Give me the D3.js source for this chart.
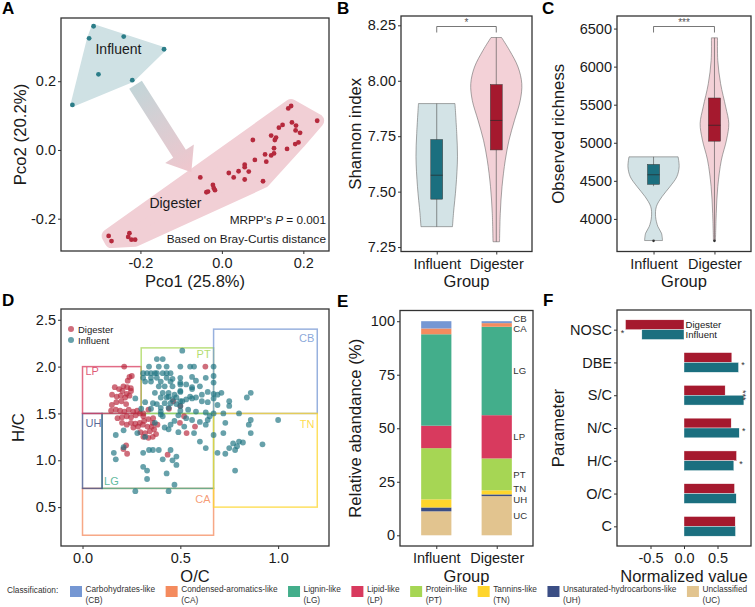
<!DOCTYPE html>
<html>
<head>
<meta charset="utf-8">
<script src="https://cdn.jsdelivr.net/npm/d3@7"></script>
<style>
  body { margin: 0; background: #fff; }
  svg text { font-family: "Liberation Sans", Arial, sans-serif; }
</style>
</head>
<body>
<div id="main"></div>
<script>
// ---------------- data ----------------
const groups = ['Influent', 'Digester'];

// A: PCoA scores (Pco1, Pco2)
const pcoInfluent = [[-0.315,0.360],[-0.326,0.325],[-0.241,0.330],[-0.142,0.293],[-0.303,0.220],[-0.220,0.203],[-0.367,0.131]];
const pcoDigester = [[0.163,0.121],[0.170,0.128],[0.234,0.085],[0.172,0.080],[0.149,0.073],[0.140,0.065],[0.182,0.071],
  [0.181,0.057],[0.192,0.050],[0.121,0.042],[0.133,0.036],[0.130,0.029],[0.076,0.029],[0.188,0.022],[0.180,0.017],
  [0.128,0.005],[0.106,-0.013],[0.128,-0.010],[0.121,-0.016],[0.160,0.003],[0.081,-0.029],[0.109,-0.034],[0.056,-0.043],
  [0.056,-0.050],[0.017,-0.067],[0.041,-0.062],[0.029,-0.080],[0.066,-0.063],[0.056,-0.086],[0.101,-0.091],[-0.053,-0.080],
  [-0.022,-0.102],[-0.020,-0.111],[-0.017,-0.117],[-0.038,-0.123],[-0.034,-0.121],[-0.278,-0.250],[-0.271,-0.265],
  [-0.227,-0.242],[-0.230,-0.253],[-0.222,-0.261],[-0.213,-0.261]];

// B: Shannon index, violin outline [value, relative density] and box stats
const shannonInfluentViolin = [[7.342,0.63],[7.402,0.67],[7.522,0.77],[7.657,0.83],[7.762,0.80],[7.897,0.73]];
const shannonDigesterViolin = [[7.274,0.13],[7.402,0.16],[7.522,0.23],[7.642,0.36],[7.732,0.51],[7.822,0.73],
  [7.912,0.96],[7.987,1.02],[8.062,0.87],[8.137,0.53],[8.195,0.21]];
const shannonBox = [
  { group: 'Influent', min: 7.342, q1: 7.466, median: 7.574, q3: 7.735, max: 7.897 },
  { group: 'Digester', min: 7.274, q1: 7.688, median: 7.821, q3: 7.983, max: 8.195 }
];

// C: observed richness
const richInfluentViolin = [[3716,0.35],[3812,0.31],[3899,0.17],[4030,0.08],[4161,0.11],[4292,0.33],[4423,0.64],
  [4554,0.91],[4685,1.0],[4815,0.96]];
const richDigesterViolin = [[3716,0.04],[4074,0.07],[4424,0.13],[4773,0.27],[5035,0.47],[5253,0.56],[5471,0.44],
  [5777,0.24],[6080,0.13],[6378,0.12]];
const richBox = [
  { group: 'Influent', min: 4430, q1: 4454, median: 4580, q3: 4716, max: 4815, outlier: 3712 },
  { group: 'Digester', min: 3712, q1: 5021, median: 5230, q3: 5588, max: 6378, outlier: 3712 }
];

// D: van Krevelen points (O/C, H/C)
const vkDigester = [[0.213,2.00],[0.240,1.89],[0.252,1.90],[0.231,1.85],[0.165,1.78],[0.187,1.76],[0.209,1.79],
  [0.228,1.78],[0.247,1.77],[0.204,1.74],[0.226,1.71],[0.248,1.74],[0.151,1.70],[0.175,1.68],[0.196,1.69],[0.218,1.67],
  [0.240,1.69],[0.150,1.59],[0.173,1.62],[0.199,1.63],[0.223,1.60],[0.146,1.53],[0.170,1.54],[0.192,1.53],[0.214,1.52],
  [0.236,1.54],[0.259,1.52],[0.279,1.53],[0.179,1.45],[0.202,1.46],[0.226,1.47],[0.248,1.46],[0.272,1.48],[0.294,1.50],
  [0.311,1.47],[0.202,1.40],[0.226,1.38],[0.248,1.40],[0.270,1.39],[0.293,1.40],[0.315,1.42],[0.337,1.44],[0.361,1.45],
  [0.260,1.35],[0.284,1.36],[0.308,1.38],[0.332,1.36],[0.354,1.36],[0.296,1.30],[0.320,1.29],[0.344,1.31],[0.366,1.33],
  [0.311,1.25],[0.337,1.24],[0.359,1.25],[0.376,1.28],[0.209,1.12],[0.228,1.07],[0.223,1.16],[0.442,1.55],[0.464,1.63],
  [0.500,1.58],[0.498,1.40],[0.519,1.47],[0.532,1.29],[0.628,2.00],[0.435,1.06],[0.359,1.40],[0.383,1.38],[0.311,1.50],
  [0.337,1.54],[0.575,1.36]];
const vkInfluent = [[0.51,2.17],[0.41,2.08],[0.38,2.08],[0.43,2.00],[0.34,2.00],[0.39,2.00],
  [0.31,1.93],[0.33,1.93],[0.35,1.93],[0.37,1.93],[0.38,1.93],[0.41,1.93],[0.43,1.93],[0.45,1.93],
  [0.31,1.88],[0.35,1.88],[0.38,1.88],[0.43,1.88],[0.46,1.87],[0.32,1.84],[0.35,1.84],[0.40,1.84],[0.45,1.84],
  [0.39,1.79],[0.42,1.79],[0.46,1.79],[0.50,1.81],[0.37,1.72],[0.41,1.72],[0.44,1.72],[0.47,1.70],[0.50,1.73],
  [0.40,1.67],[0.43,1.67],[0.44,1.68],[0.46,1.65],[0.48,1.67],[0.51,1.63],[0.36,1.61],[0.42,1.61],[0.45,1.61],[0.48,1.60],
  [0.40,1.56],[0.44,1.56],[0.50,1.53],[0.40,1.49],[0.49,1.48],[0.50,2.00],[0.55,2.00],[0.57,2.00],[0.67,2.00],
  [0.50,1.88],[0.56,1.89],[0.58,1.85],[0.67,1.90],[0.67,1.83],[0.63,1.88],[0.50,1.83],[0.53,1.81],[0.60,1.79],[0.56,1.78],
  [0.56,1.76],[0.50,1.74],[0.55,1.68],[0.58,1.67],[0.61,1.70],[0.64,1.73],[0.67,1.71],[0.69,1.70],[0.71,1.72],
  [0.50,1.63],[0.53,1.65],[0.56,1.66],[0.61,1.63],[0.64,1.62],[0.67,1.66],[0.69,1.59],[0.75,1.63],[0.75,1.58],[0.84,1.67],
  [0.86,1.72],[0.50,1.58],[0.54,1.54],[0.58,1.52],[0.63,1.51],[0.67,1.50],[0.72,1.50],[0.80,1.50],[0.86,1.43],[1.00,1.43],
  [0.53,1.45],[0.56,1.43],[0.60,1.41],[0.63,1.38],[0.64,1.43],[0.65,1.47],[0.57,1.29],[0.60,1.20],[0.63,1.13],[0.67,1.27],
  [0.72,1.29],[0.69,1.08],[0.73,1.07],[0.75,1.13],[0.77,1.18],[0.79,1.15],[0.80,1.20],[0.82,1.19],[0.78,1.11],[0.78,0.89],
  [0.92,1.17],[0.85,1.38],[0.86,1.29],[0.73,1.40],[0.17,1.27],[0.21,1.32],[0.16,1.08],[0.17,1.01],[0.21,1.14],[0.31,1.08],
  [0.34,1.11],[0.36,1.11],[0.39,1.11],[0.41,1.01],[0.45,1.11],[0.48,1.04],[0.46,1.00],[0.48,0.95],[0.31,0.93],[0.33,0.89],
  [0.33,0.80],[0.43,0.86],[0.47,0.74],[0.27,0.67],[0.44,0.67],[0.28,1.29],[0.32,1.25],[0.44,1.33],[0.41,1.47],[0.37,1.40],
  [0.45,1.38],[0.47,1.42],[0.42,1.35],[0.49,1.30],[0.52,1.36],[0.40,1.52],[0.35,1.55],[0.38,1.60],[0.27,1.66],[0.30,1.55],
  [0.32,1.62]];

// compound classes
const classes = ['CB', 'CA', 'LG', 'LP', 'PT', 'TN', 'UH', 'UC'];
const classNames = ['Carbohydrates-like', 'Condensed-aromatics-like', 'Lignin-like', 'Lipid-like',
  'Protein-like', 'Tannins-like', 'Unsaturated-hydrocarbons-like', 'Unclassified'];
const classColors = ['#7597d3', '#f48b5e', '#43ae8b', '#d83a5e', '#a6d654', '#fed52c', '#3b4e85', '#e2c48f'];
// van Krevelen boundaries [O/C min, O/C max, H/C min, H/C max] (UC has none)
const classBounds = { CB: [0.67,1.2,1.5,2.4], CA: [0,0.67,0.2,0.7], LG: [0.1,0.67,0.7,1.5], LP: [0,0.3,1.5,2.0],
  PT: [0.3,0.67,1.5,2.2], TN: [0.67,1.2,0.5,1.5], UH: [0,0.1,0.7,1.5] };

// E: relative abundance (%) in class order
const abundInfluent = [3.4, 2.7, 42.7, 10.5, 23.9, 3.8, 1.8, 11.2];
const abundDigester = [0.9, 1.7, 41.3, 20.2, 14.9, 1.9, 0.8, 18.3];

// F: normalized molecular parameters
const params = ['NOSC', 'DBE', 'S/C', 'N/C', 'H/C', 'O/C', 'C'];
const normDigester = [-0.873, 0.714, 0.614, 0.704, 0.784, 0.754, 0.764];
const normInfluent = [-0.629, 0.814, 0.894, 0.824, 0.744, 0.779, 0.769];
const paramSig = ['*', '*', '***', '*', '*', '', ''];

// ---------------- layout ----------------
const width = 755, height = 607;
const ink = '#1a1a1a';
const teal = '#1b6f7f', red = '#a5192e';

const svg = d3.select('#main').append('svg')
  .attr('width', width).attr('height', height)
  .style('background', '#fff');

const boxA = { x0: 61, x1: 329, y0: 18, y1: 251 };
const boxB = { x0: 401, x1: 532, y0: 16, y1: 251.5 };
const boxC = { x0: 617, x1: 751, y0: 16, y1: 251.5 };
const boxD = { x0: 61, x1: 329, y0: 309, y1: 546 };
const boxE = { x0: 400, x1: 533, y0: 310.5, y1: 546 };
const boxF = { x0: 617, x1: 751, y0: 310, y1: 546 };

const fmtMinus = f => v => f(v).replace('\u2212', '-');

function frame(b) {
  svg.append('rect')
    .attr('x', b.x0).attr('y', b.y0)
    .attr('width', b.x1 - b.x0).attr('height', b.y1 - b.y0)
    .attr('fill', 'none').attr('stroke', '#333').attr('stroke-width', 1.3);
}

function styleAxis(g) {
  g.select('.domain').remove();
  g.selectAll('.tick line').attr('stroke', '#333');
  g.selectAll('.tick text').attr('fill', ink).style('font-size', '14.5px');
}

function leftAxis(b, scale, ticks, fmt) {
  const g = svg.append('g').attr('transform', `translate(${b.x0},0)`)
    .call(d3.axisLeft(scale).tickValues(ticks).tickFormat(fmt).tickSize(3).tickPadding(2));
  styleAxis(g);
}

function bottomAxis(b, scale, ticks, fmt) {
  const g = svg.append('g').attr('transform', `translate(0,${b.y1})`)
    .call(d3.axisBottom(scale).tickValues(ticks).tickFormat(fmt).tickSize(3).tickPadding(4));
  styleAxis(g);
}

function titles(b, xt, yt, yx) {
  svg.append('text')
    .attr('x', (b.x0 + b.x1) / 2).attr('y', b.y1 + 35.5)
    .attr('text-anchor', 'middle').attr('fill', ink)
    .style('font-size', '16.5px').text(xt);
  svg.append('text')
    .attr('transform', `translate(${yx},${(b.y0 + b.y1) / 2}) rotate(-90)`)
    .attr('dy', '0.35em')
    .attr('text-anchor', 'middle').attr('fill', ink)
    .style('font-size', '16.8px').text(yt);
}

function panelLetter(t, x, y) {
  svg.append('text').attr('x', x).attr('y', y)
    .attr('fill', '#000').style('font-size', '17px').style('font-weight', 'bold').text(t);
}

// ---------------- A: PCoA ----------------
const xA = d3.scaleLinear().domain([-0.395, 0.263]).range([boxA.x0, boxA.x1]);
const yA = d3.scaleLinear().domain([-0.294, 0.384]).range([boxA.y1, boxA.y0]);

const hullInf = d3.polygonHull(pcoInfluent.map(d => [xA(d[0]), yA(d[1])]));
const hullDig = d3.polygonHull(pcoDigester.map(d => [xA(d[0]), yA(d[1])]));

svg.append('path').attr('d', 'M' + hullInf.join('L') + 'Z')
  .attr('fill', '#cfe1e4').attr('stroke', '#cfe1e4').attr('stroke-width', 4).attr('stroke-linejoin', 'round');
svg.append('path').attr('d', 'M' + hullDig.join('L') + 'Z')
  .attr('fill', '#f1cfd5').attr('stroke', '#f1cfd5').attr('stroke-width', 14).attr('stroke-linejoin', 'round');

// arrow from Influent to Digester
const arrowFrom = [xA(-0.212), yA(0.19)], arrowTo = [xA(-0.075), yA(-0.065)];
(function () {
  const dx = arrowTo[0] - arrowFrom[0], dy = arrowTo[1] - arrowFrom[1];
  const len = Math.hypot(dx, dy), ux = dx / len, uy = dy / len, nx = -uy, ny = ux;
  const w = 7.5, hw = 17, hl = 22;
  const bx = arrowTo[0] - ux * hl, by = arrowTo[1] - uy * hl;
  const pts = [
    [arrowFrom[0] + nx * w, arrowFrom[1] + ny * w], [bx + nx * w, by + ny * w], [bx + nx * hw, by + ny * hw],
    arrowTo, [bx - nx * hw, by - ny * hw], [bx - nx * w, by - ny * w], [arrowFrom[0] - nx * w, arrowFrom[1] - ny * w]
  ];
  const grad = svg.append('defs').append('linearGradient').attr('id', 'arrowGrad')
    .attr('gradientUnits', 'userSpaceOnUse')
    .attr('x1', arrowFrom[0]).attr('y1', arrowFrom[1]).attr('x2', arrowTo[0]).attr('y2', arrowTo[1]);
  grad.append('stop').attr('offset', '0%').attr('stop-color', '#c3d5d8');
  grad.append('stop').attr('offset', '100%').attr('stop-color', '#f0c6cd');
  svg.append('path').attr('d', 'M' + pts.join('L') + 'Z').attr('fill', 'url(#arrowGrad)');
})();

svg.append('g').selectAll('circle').data(pcoInfluent).enter().append('circle')
  .attr('cx', d => xA(d[0])).attr('cy', d => yA(d[1])).attr('r', 2.4).attr('fill', '#2b7d88');
svg.append('g').selectAll('circle').data(pcoDigester).enter().append('circle')
  .attr('cx', d => xA(d[0])).attr('cy', d => yA(d[1])).attr('r', 2.4).attr('fill', '#b52a3d');

svg.append('text').attr('x', xA(-0.254)).attr('y', yA(0.278)).attr('text-anchor', 'middle')
  .attr('fill', ink).style('font-size', '14px').text('Influent');
svg.append('text').attr('x', xA(-0.114)).attr('y', yA(-0.169)).attr('text-anchor', 'middle')
  .attr('fill', ink).style('font-size', '14px').text('Digester');

const mrpp = svg.append('text').attr('x', boxA.x1 - 3).attr('y', 224).attr('text-anchor', 'end')
  .attr('fill', ink).style('font-size', '11.8px');
mrpp.append('tspan').text("MRPP's ");
mrpp.append('tspan').style('font-style', 'italic').text('P');
mrpp.append('tspan').text(' = 0.001');
svg.append('text').attr('x', boxA.x1 - 3).attr('y', 243).attr('text-anchor', 'end')
  .attr('fill', ink).style('font-size', '11.8px').text('Based on Bray-Curtis distance');

frame(boxA);
leftAxis(boxA, yA, [-0.2, 0, 0.2], fmtMinus(d3.format('.1f')));
bottomAxis(boxA, xA, [-0.2, 0, 0.2], fmtMinus(d3.format('.1f')));
titles(boxA, 'Pco1 (25.8%)', 'Pco2 (20.2%)', 20);
panelLetter('A', 2, 14);

// ---------------- B & C: violins ----------------
function violinPanel(b, yDomain, violins, boxes, ticks, fmt, ytitle, ytx, sig) {
  const x = d3.scalePoint().domain(groups).range([b.x0, b.x1]).padding(0.6);
  const y = d3.scaleLinear().domain(yDomain).range([b.y1, b.y0]);
  const k = 0.42 * x.step();
  const fills = { Influent: '#d3e3e6', Digester: '#f3d1d7' };
  const cols = { Influent: teal, Digester: red };
  groups.forEach((gname, i) => {
    const cx = x(gname);
    const area = d3.area()
      .y(d => y(d[0])).x0(d => cx - d[1] * k).x1(d => cx + d[1] * k)
      .curve(d3.curveCatmullRom);
    svg.append('path').attr('d', area(violins[i]))
      .attr('fill', fills[gname]).attr('stroke', '#6b6b6b').attr('stroke-width', 0.6);
    const s = boxes[i];
    const bw = 0.2 * x.step();
    svg.append('line').attr('x1', cx).attr('x2', cx).attr('y1', y(s.min)).attr('y2', y(s.max))
      .attr('stroke', '#4a4a4a').attr('stroke-width', 0.6);
    svg.append('rect').attr('x', cx - bw / 2).attr('width', bw)
      .attr('y', y(s.q3)).attr('height', y(s.q1) - y(s.q3))
      .attr('fill', cols[gname]).attr('stroke', '#3a3a3a').attr('stroke-width', 0.5);
    svg.append('line').attr('x1', cx - bw / 2).attr('x2', cx + bw / 2)
      .attr('y1', y(s.median)).attr('y2', y(s.median)).attr('stroke', '#2a2a2a').attr('stroke-width', 0.7);
    if (s.outlier !== undefined) {
      svg.append('circle').attr('cx', cx).attr('cy', y(s.outlier)).attr('r', 1.3).attr('fill', '#333');
    }
  });
  // significance bracket
  const bracketY = b.y0 + 10.5;
  svg.append('path')
    .attr('d', `M${x('Influent')},${bracketY + 6}V${bracketY}H${x('Digester')}V${bracketY + 6}`)
    .attr('fill', 'none').attr('stroke', '#555').attr('stroke-width', 0.8);
  svg.append('text').attr('x', (x('Influent') + x('Digester')) / 2).attr('y', bracketY - 0.5)
    .attr('text-anchor', 'middle').attr('fill', '#555').style('font-size', '10px').text(sig);
  frame(b);
  leftAxis(b, y, ticks, fmt);
  bottomAxis(b, x, groups, d => d);
  titles(b, 'Group', ytitle, ytx);
}

violinPanel(boxB, [7.23, 8.292], [shannonInfluentViolin, shannonDigesterViolin], shannonBox,
  [7.25, 7.5, 7.75, 8.0, 8.25], d3.format('.2f'), 'Shannon index', 355, '*');
panelLetter('B', 337, 14);

violinPanel(boxC, [3572, 6665], [richInfluentViolin, richDigesterViolin], richBox,
  [4000, 4500, 5000, 5500, 6000, 6500], d3.format('d'), 'Observed richness', 558, '***');
panelLetter('C', 542, 14);

// ---------------- D: van Krevelen ----------------
const xD = d3.scaleLinear().domain([-0.11, 1.26]).range([boxD.x0, boxD.x1]);
const yD = d3.scaleLinear().domain([0.085, 2.615]).range([boxD.y1, boxD.y0]);
const classColor = c => classColors[classes.indexOf(c)];

['CA', 'LG', 'UH', 'LP', 'PT', 'CB', 'TN'].forEach(c => {
  const bd = classBounds[c];
  svg.append('rect')
    .attr('x', xD(bd[0])).attr('y', yD(bd[3]))
    .attr('width', xD(bd[1]) - xD(bd[0])).attr('height', yD(bd[2]) - yD(bd[3]))
    .attr('fill', 'none').attr('stroke', classColor(c)).attr('stroke-opacity', 0.75).attr('stroke-width', 1.5);
});

svg.append('g').selectAll('circle').data(vkDigester).enter().append('circle')
  .attr('cx', d => xD(d[0])).attr('cy', d => yD(d[1])).attr('r', 2.9)
  .attr('fill', '#b8283c').attr('fill-opacity', 0.68);
svg.append('g').selectAll('circle').data(vkInfluent).enter().append('circle')
  .attr('cx', d => xD(d[0])).attr('cy', d => yD(d[1])).attr('r', 2.9)
  .attr('fill', '#1f7482').attr('fill-opacity', 0.68);

// region labels
const regionLabels = [
  { c: 'LP', x: 0.015, y: 1.91, anchor: 'start' },
  { c: 'PT', x: 0.655, y: 2.09, anchor: 'end' },
  { c: 'CB', x: 1.185, y: 2.26, anchor: 'end' },
  { c: 'UH', x: 0.015, y: 1.36, anchor: 'start' },
  { c: 'LG', x: 0.11, y: 0.74, anchor: 'start' },
  { c: 'CA', x: 0.655, y: 0.54, anchor: 'end' },
  { c: 'TN', x: 1.185, y: 1.35, anchor: 'end' }
];
svg.append('g').selectAll('text').data(regionLabels).enter().append('text')
  .attr('x', d => xD(d.x)).attr('y', d => yD(d.y)).attr('text-anchor', d => d.anchor)
  .attr('fill', d => classColor(d.c)).attr('fill-opacity', 0.85)
  .style('font-size', '11px').text(d => d.c);

// point legend
[['Digester', '#b8283c'], ['Influent', '#1f7482']].forEach((d, i) => {
  svg.append('circle').attr('cx', 71).attr('cy', 329 + i * 11).attr('r', 3)
    .attr('fill', d[1]).attr('fill-opacity', 0.68);
  svg.append('text').attr('x', 78).attr('y', 332.5 + i * 11).attr('fill', ink)
    .style('font-size', '9.5px').text(d[0]);
});

frame(boxD);
leftAxis(boxD, yD, [0.5, 1.0, 1.5, 2.0, 2.5], d3.format('.1f'));
bottomAxis(boxD, xD, [0, 0.5, 1.0], d3.format('.1f'));
titles(boxD, 'O/C', 'H/C', 18);
panelLetter('D', 2, 306);

// ---------------- E: stacked composition ----------------
const stackOrder = ['UC', 'UH', 'TN', 'PT', 'LP', 'LG', 'CA', 'CB'];
const abundRows = groups.map(g => {
  const vals = g === 'Influent' ? abundInfluent : abundDigester;
  const row = { group: g };
  classes.forEach((c, i) => { row[c] = vals[i]; });
  return row;
});
const stacked = d3.stack().keys(stackOrder)(abundRows);
const xEc = d3.scalePoint().domain(groups).range([boxE.x0, boxE.x1]).padding(0.6);
const yE = d3.scaleLinear().domain([-5, 105]).range([boxE.y1, boxE.y0]);
const barW = 0.5 * xEc.step();

stacked.forEach(layer => {
  svg.append('g').selectAll('rect').data(layer).enter().append('rect')
    .attr('x', d => xEc(d.data.group) - barW / 2).attr('width', barW)
    .attr('y', d => yE(d[1])).attr('height', d => yE(d[0]) - yE(d[1]))
    .attr('fill', classColor(layer.key));
});

// labels next to the Digester bar, spread apart where crowded
const dLayers = stacked.map(l => ({ key: l.key, mid: (l[1][0] + l[1][1]) / 2 }));
dLayers.sort((a, b) => b.mid - a.mid);
const minGap = 5;
for (let iter = 0; iter < 50; iter++) {
  for (let i = 0; i < dLayers.length - 1; i++) {
    const a = dLayers[i], b = dLayers[i + 1];
    const gap = a.mid - b.mid;
    if (gap < minGap) {
      const push = (minGap - gap) / 2;
      a.mid += push; b.mid -= push;
    }
  }
}
svg.append('g').selectAll('text').data(dLayers).enter().append('text')
  .attr('x', xEc('Digester') + barW / 2 + 1.5).attr('y', d => yE(d.mid)).attr('dy', '0.35em')
  .attr('fill', '#333').style('font-size', '9.6px').text(d => d.key);

frame(boxE);
leftAxis(boxE, yE, [0, 25, 50, 75, 100], d3.format('d'));
bottomAxis(boxE, xEc, groups, d => d);
titles(boxE, 'Group', 'Relative abandance (%)', 355);
panelLetter('E', 337, 307);

// ---------------- F: normalized parameters ----------------
const xF = d3.scaleLinear().domain([-1, 1]).range([boxF.x0, boxF.x1]);
const yF = d3.scalePoint().domain(params).range([boxF.y0, boxF.y1]).padding(0.6);
const barH = 0.3 * yF.step();

svg.append('g').selectAll('rect').data(params).enter().append('rect')
  .attr('x', (d, i) => xF(Math.min(0, normDigester[i])))
  .attr('width', (d, i) => Math.abs(xF(normDigester[i]) - xF(0)))
  .attr('y', d => yF(d) - barH).attr('height', barH)
  .attr('fill', red).attr('stroke', '#fff').attr('stroke-width', 0.4);
svg.append('g').selectAll('rect').data(params).enter().append('rect')
  .attr('x', (d, i) => xF(Math.min(0, normInfluent[i])))
  .attr('width', (d, i) => Math.abs(xF(normInfluent[i]) - xF(0)))
  .attr('y', d => yF(d)).attr('height', barH)
  .attr('fill', teal).attr('stroke', '#fff').attr('stroke-width', 0.4);

params.forEach((p, i) => {
  if (!paramSig[i]) return;
  const lo = Math.min(normDigester[i], normInfluent[i]);
  const hi = Math.max(normDigester[i], normInfluent[i]);
  const neg = lo < 0;
  const t = svg.append('text').attr('fill', '#333').style('font-size', '9px')
    .attr('text-anchor', 'middle').text(paramSig[i]);
  if (paramSig[i].length > 1) {
    t.attr('transform', `translate(${xF(hi) + 3},${yF(p)}) rotate(90)`).attr('dy', '0.75em');
  } else {
    t.attr('x', neg ? xF(lo) - 3 : xF(hi) + 4.5).attr('y', yF(p) + 6);
  }
});

[['Digester', -0.5], ['Influent', 0.5]].forEach(d => {
  svg.append('text').attr('x', xF(0) + 1.5).attr('y', yF('NOSC') + d[1] * barH).attr('dy', '0.35em')
    .attr('fill', ink).style('font-size', '9.6px').text(d[0]);
});

frame(boxF);
leftAxis(boxF, yF, params, d => d);
bottomAxis(boxF, xF, [-0.5, 0, 0.5], fmtMinus(d3.format('.1f')));
titles(boxF, 'Normalized value', 'Parameter', 558);
panelLetter('F', 543, 306);

// ---------------- bottom legend ----------------
const legY = 586;
svg.append('text').attr('x', 7).attr('y', legY + 6.5).attr('fill', '#333')
  .style('font-size', '8.3px').text('Classification:');
let lx = 70;
classes.forEach((c, i) => {
  svg.append('rect').attr('x', lx).attr('y', legY).attr('width', 12).attr('height', 11)
    .attr('fill', classColors[i]);
  const t = svg.append('text').attr('y', legY + 5.5).attr('fill', '#333')
    .style('font-size', '8.3px');
  const first = t.append('tspan').attr('x', lx + 15.5).text(classNames[i]);
  t.append('tspan').attr('x', lx + 15.5).attr('dy', '1.4em').text('(' + c + ')');
  lx += 15.5 + first.node().getComputedTextLength() + 10.5;
});
</script>
</body>
</html>
